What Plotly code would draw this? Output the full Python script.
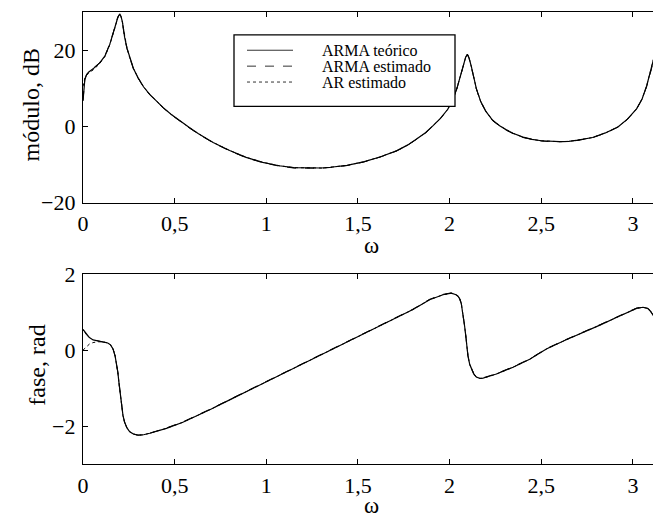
import plotly.graph_objects as go

# ---------------- data ----------------
w_mag = [0.0, 0.005, 0.01, 0.02, 0.03, 0.055, 0.09, 0.12, 0.146, 0.173, 0.19, 0.2, 0.207, 0.215,
         0.227, 0.24, 0.255, 0.275, 0.3, 0.33, 0.364, 0.4, 0.436, 0.48, 0.527, 0.58, 0.63, 0.71,
         0.8, 0.89, 0.98, 1.07, 1.15, 1.23, 1.3, 1.35, 1.44, 1.53, 1.62, 1.71, 1.77, 1.82, 1.87,
         1.91, 1.95, 1.99, 2.02, 2.04, 2.06, 2.075, 2.088, 2.097, 2.106, 2.119, 2.133, 2.146,
         2.17, 2.2, 2.235, 2.273, 2.31, 2.346, 2.4, 2.45, 2.5, 2.55, 2.6, 2.65, 2.7, 2.78, 2.85,
         2.92, 2.97, 3.02, 3.05, 3.075, 3.1, 3.12, 3.1416]
mag_arma_teorico = [6.7, 10.0, 12.3, 13.6, 14.2, 15.1, 16.6, 18.5, 21.5, 25.8, 28.6, 29.5, 28.9, 27.4,
                    23.4, 20.5, 18.0, 15.2, 12.8, 10.4, 8.4, 6.6, 5.0, 3.2, 1.5, -0.3, -1.9, -4.2,
                    -6.3, -8.1, -9.4, -10.3, -10.8, -10.95, -10.9, -10.7, -10.2, -9.3, -8.0, -6.4, -4.9, -3.3, -1.6,
                    0.2, 2.1, 4.5, 7.3, 10.0, 13.3, 16.0, 18.2, 18.9, 18.0, 15.6, 12.5, 9.9,
                    6.5, 3.8, 1.6, 0.2, -0.9, -1.8, -2.8, -3.4, -3.75, -3.95, -4.0, -3.9, -3.6, -2.9, -1.7,
                    -0.1, 1.9, 4.6, 7.2, 10.6, 14.9, 19.0, 24.0]
mag_arma_estimado = [6.9, 10.2, 12.4, 13.7, 14.3, 15.2, 16.7, 18.6, 21.6, 25.9, 28.7, 29.4, 28.8, 27.3,
                     23.3, 20.4, 17.9, 15.1, 12.7, 10.3, 8.3, 6.5, 4.9, 3.1, 1.4, -0.4, -2.0, -4.3,
                     -6.4, -8.2, -9.5, -10.4, -10.9, -11.0, -10.95, -10.75, -10.25, -9.35, -8.05, -6.45, -4.95, -3.35, -1.65,
                     0.15, 2.05, 4.45, 7.25, 9.95, 13.2, 15.9, 18.1, 18.8, 17.9, 15.5, 12.4, 9.8,
                     6.4, 3.7, 1.5, 0.1, -1.0, -1.9, -2.9, -3.45, -3.8, -4.0, -4.05, -3.95, -3.65, -2.95, -1.75,
                     -0.15, 1.85, 4.55, 7.15, 10.5, 14.8, 18.9, 23.9]
mag_ar_estimado = [10.5, 11.5, 12.6, 13.4, 14.0, 14.8, 16.4, 18.4, 21.4, 25.7, 28.5, 29.4, 28.8, 27.3,
                   23.4, 20.5, 18.0, 15.2, 12.8, 10.4, 8.4, 6.6, 5.0, 3.2, 1.5, -0.3, -1.9, -4.2,
                   -6.3, -8.1, -9.4, -10.3, -10.8, -10.95, -10.9, -10.7, -10.2, -9.3, -8.0, -6.4, -4.9, -3.3, -1.6,
                   0.2, 2.1, 4.5, 7.3, 10.0, 13.3, 16.0, 18.2, 18.9, 18.0, 15.6, 12.5, 9.9,
                   6.5, 3.8, 1.6, 0.2, -0.9, -1.8, -2.8, -3.4, -3.75, -3.95, -4.0, -3.9, -3.6, -2.9, -1.7,
                   -0.1, 1.9, 4.6, 7.2, 10.6, 14.9, 19.0, 24.0]

w_fase = [0.0, 0.008, 0.018, 0.035, 0.055, 0.08, 0.109, 0.135, 0.15, 0.164, 0.175, 0.182, 0.19,
          0.196, 0.203, 0.209, 0.218, 0.227, 0.24, 0.255, 0.275, 0.3, 0.33, 0.364, 0.41, 0.455,
          0.545, 0.627, 0.7, 0.8, 0.9, 1.0, 1.1, 1.2, 1.3, 1.4, 1.5, 1.6, 1.7, 1.8, 1.891, 1.964,
          2.01, 2.035, 2.046, 2.056, 2.064, 2.073, 2.082, 2.09, 2.1, 2.11, 2.119, 2.132, 2.146,
          2.165, 2.182, 2.22, 2.255, 2.3, 2.346, 2.437, 2.528, 2.63, 2.73, 2.82, 2.91, 2.98, 3.02,
          3.055, 3.08, 3.095, 3.11, 3.13, 3.1416]
fase_arma_teorico = [0.55, 0.5, 0.42, 0.33, 0.27, 0.24, 0.22, 0.19, 0.14, 0.03, -0.15, -0.32, -0.58,
                     -0.85, -1.15, -1.45, -1.72, -1.9, -2.05, -2.15, -2.21, -2.24, -2.23, -2.19, -2.13, -2.06,
                     -1.9, -1.72, -1.55, -1.31, -1.07, -0.83, -0.6, -0.36, -0.12, 0.12, 0.36, 0.6, 0.84, 1.07, 1.33, 1.46,
                     1.5, 1.46, 1.42, 1.34, 1.22, 0.95, 0.63, 0.3, -0.15, -0.38, -0.5, -0.63, -0.71,
                     -0.745, -0.74, -0.69, -0.63, -0.54, -0.45, -0.24, 0.03, 0.26, 0.46, 0.66, 0.86, 1.02, 1.1,
                     1.13, 1.1, 1.03, 0.93, 0.8, 0.7]
fase_arma_estimado = [0.53, 0.49, 0.41, 0.33, 0.27, 0.24, 0.22, 0.19, 0.14, 0.03, -0.15, -0.32, -0.58,
                      -0.85, -1.15, -1.45, -1.72, -1.9, -2.05, -2.15, -2.21, -2.24, -2.23, -2.19, -2.12, -2.05,
                      -1.89, -1.71, -1.54, -1.3, -1.06, -0.82, -0.59, -0.35, -0.11, 0.13, 0.37, 0.61, 0.85, 1.08, 1.34, 1.47,
                      1.51, 1.47, 1.43, 1.35, 1.23, 0.96, 0.64, 0.31, -0.14, -0.37, -0.49, -0.62, -0.7,
                      -0.735, -0.73, -0.68, -0.62, -0.53, -0.44, -0.23, 0.04, 0.27, 0.47, 0.67, 0.87, 1.03, 1.11,
                      1.14, 1.11, 1.04, 0.94, 0.81, 0.71]
fase_ar_estimado = [0.0, 0.04, 0.09, 0.16, 0.2, 0.22, 0.22, 0.19, 0.14, 0.03, -0.15, -0.32, -0.58,
                    -0.85, -1.15, -1.45, -1.72, -1.9, -2.05, -2.15, -2.21, -2.24, -2.23, -2.19, -2.13, -2.06,
                    -1.9, -1.72, -1.55, -1.31, -1.07, -0.83, -0.6, -0.36, -0.12, 0.12, 0.36, 0.6, 0.84, 1.07, 1.33, 1.46,
                    1.5, 1.46, 1.42, 1.34, 1.22, 0.95, 0.63, 0.3, -0.15, -0.38, -0.5, -0.63, -0.71,
                    -0.745, -0.74, -0.69, -0.63, -0.54, -0.45, -0.24, 0.03, 0.26, 0.46, 0.66, 0.86, 1.02, 1.1,
                    1.13, 1.1, 1.03, 0.93, 0.8, 0.7]

x_tickvals = [0, 0.5, 1, 1.5, 2, 2.5, 3]
x_ticktext = ["0", "0,5", "1", "1,5", "2", "2,5", "3"]
mag_tickvals = [-20, 0, 20]
mag_ticktext = ["\u221220", "0", "20"]
fase_tickvals = [-2, 0, 2]
fase_ticktext = ["\u22122", "0", "2"]
legend_labels = ["ARMA te\u00f3rico", "ARMA estimado", "AR estimado"]

# ---------------- layout geometry ----------------
W, H = 653, 521
ML, MR, MT, MB = 83, 0, 9, 57
PW, PH = W - ML - MR, H - MT - MB


def px_x(px):
    return (px - ML) / PW


def px_y(py):
    return (H - MB - py) / PH


FONT = "Liberation Serif, Times New Roman, serif"

fig = go.Figure()

styles = [dict(color="black", width=1.2, dash="solid"),
          dict(color="black", width=1.0, dash="dash"),
          dict(color="black", width=1.0, dash="dot")]

mag_series = [mag_arma_teorico, mag_arma_estimado, mag_ar_estimado]
fase_series = [fase_arma_teorico, fase_arma_estimado, fase_ar_estimado]

for name, ys, st in zip(legend_labels, mag_series, styles):
    fig.add_trace(go.Scatter(x=w_mag, y=ys, mode="lines", line=st, name=name,
                             xaxis="x", yaxis="y", showlegend=False))
for name, ys, st in zip(legend_labels, fase_series, styles):
    fig.add_trace(go.Scatter(x=w_fase, y=ys, mode="lines", line=st, name=name,
                             xaxis="x2", yaxis="y2", showlegend=False))

xrange = [0, 570 / 183.3]
axis_common = dict(showgrid=False, zeroline=False, showline=True, linecolor="black",
                   linewidth=1.3, ticks="inside", ticklen=5, tickcolor="black", tickwidth=1,
                   tickfont=dict(family=FONT, size=22, color="black"))

top_lo = px_y(201)
bot_hi = px_y(273)

fig.update_layout(
    width=W, height=H,
    margin=dict(l=ML, r=MR, t=MT, b=MB, pad=0),
    paper_bgcolor="white", plot_bgcolor="white",
    showlegend=False,
    xaxis=dict(domain=[0, 1], range=xrange, anchor="y", mirror="ticks",
               tickvals=x_tickvals, ticktext=x_ticktext, ticklabelstandoff=1, **axis_common),
    yaxis=dict(domain=[top_lo, 1], range=[-20, 30], anchor="x", mirror=False,
               tickvals=mag_tickvals, ticktext=mag_ticktext, ticklabelstandoff=2, **axis_common),
    xaxis2=dict(domain=[0, 1], range=xrange, anchor="y2", mirror="ticks",
                tickvals=x_tickvals, ticktext=x_ticktext, ticklabelstandoff=1, **axis_common),
    yaxis2=dict(domain=[0, bot_hi], range=[-3, 2], anchor="x2", mirror=False,
                tickvals=fase_tickvals, ticktext=fase_ticktext, ticklabelstandoff=2, **axis_common),
)

# axis titles
ann = [
    dict(text="\u03c9", x=px_x(371), y=px_y(244), xref="paper", yref="paper",
         showarrow=False, font=dict(family=FONT, size=23, color="black"),
         xanchor="center", yanchor="middle"),
    dict(text="\u03c9", x=px_x(371), y=px_y(506), xref="paper", yref="paper",
         showarrow=False, font=dict(family=FONT, size=23, color="black"),
         xanchor="center", yanchor="middle"),
    dict(text="m\u00f3dulo, dB", x=px_x(31), y=px_y(103), xref="paper", yref="paper",
         showarrow=False, textangle=-90, font=dict(family=FONT, size=24, color="black"),
         xanchor="center", yanchor="middle"),
    dict(text="fase, rad", x=px_x(37), y=px_y(365), xref="paper", yref="paper",
         showarrow=False, textangle=-90, font=dict(family=FONT, size=24, color="black"),
         xanchor="center", yanchor="middle"),
]

# manual legend (box, samples, labels)
shapes = [dict(type="rect", xref="paper", yref="paper",
               x0=px_x(234), x1=px_x(455), y0=px_y(104), y1=px_y(32),
               line=dict(color="black", width=1.3), fillcolor="white", layer="above")]
rows = [47.5, 63.5, 79.5]
for (label, st, ry) in zip(legend_labels, styles, rows):
    shapes.append(dict(type="line", xref="paper", yref="paper",
                       x0=px_x(247), x1=px_x(293), y0=px_y(ry), y1=px_y(ry),
                       line=dict(color="#333333", width=1.0, dash=st["dash"]), layer="above"))
    ann.append(dict(text=label, x=px_x(320), y=px_y(ry), xref="paper", yref="paper",
                    showarrow=False, xanchor="left", yanchor="middle",
                    font=dict(family=FONT, size=16, color="black")))

fig.update_layout(annotations=ann, shapes=shapes)

fig.write_html("out.html")
